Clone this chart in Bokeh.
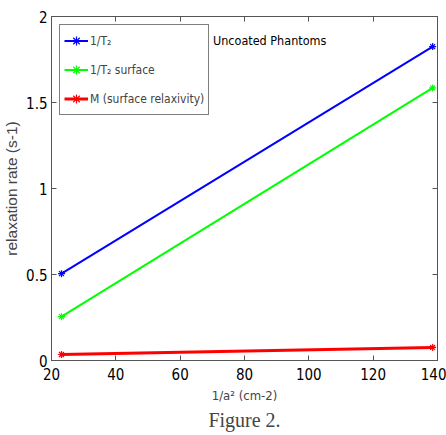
from bokeh.plotting import figure
from bokeh.models import Range1d, LinearAxis, FixedTicker, Legend, LegendItem, Label, Title
from bokeh.embed import file_html
from bokeh.resources import INLINE

# data
x_vals = [23.1, 138.5]
t2 = [0.505, 1.825]
t2_surface = [0.255, 1.585]
m_relax = [0.035, 0.076]

x_ticks = [20, 40, 60, 80, 100, 120, 140]
y_ticks = [0, 0.5, 1, 1.5, 2]
y_tick_labels = {0: "0", 0.5: "0.5", 1: "1", 1.5: "1.5", 2: "2"}

series_labels = ["1/T\u2082", "1/T\u2082 surface", "M (surface relaxivity)"]
series_colors = ["#0000ff", "#00ff00", "#ff0000"]

NARROW = "DejaVu Sans Condensed, Roboto"
AXC = "#555555"

p = figure(width=446, height=435, output_backend="svg", toolbar_location=None,
           x_range=Range1d(20, 140), y_range=Range1d(0, 2),
           min_border_left=47, min_border_right=9, min_border_top=16, min_border_bottom=75)
p.background_fill_color = "white"
p.border_fill_color = "white"
p.outline_line_color = AXC
p.grid.visible = False

for ax in [p.xaxis[0], p.yaxis[0]]:
    ax.major_tick_in = 5
    ax.major_tick_out = 0
    ax.minor_tick_in = 0
    ax.minor_tick_out = 0
    ax.axis_line_color = AXC
    ax.major_tick_line_color = AXC
    ax.major_label_text_font = NARROW
    ax.major_label_text_font_size = "15px"
    ax.major_label_text_color = "black"

p.xaxis[0].ticker = FixedTicker(ticks=x_ticks)
p.yaxis[0].ticker = FixedTicker(ticks=y_ticks)
p.yaxis[0].major_label_overrides = y_tick_labels
p.xaxis[0].major_label_standoff = 7
p.yaxis[0].major_label_standoff = 4

p.xaxis[0].axis_label = "1/a\u00b2 (cm-2)"
p.xaxis[0].axis_label_text_font = NARROW
p.xaxis[0].axis_label_text_font_size = "13px"
p.xaxis[0].axis_label_text_font_style = "normal"
p.xaxis[0].axis_label_standoff = 5

p.yaxis[0].axis_label = "relaxation rate (s-1)"
p.yaxis[0].axis_label_text_font = "Liberation Sans"
p.yaxis[0].axis_label_text_font_size = "15.5px"
p.yaxis[0].axis_label_text_font_style = "normal"
p.yaxis[0].axis_label_standoff = 3

top_ax = LinearAxis(ticker=FixedTicker(ticks=x_ticks), major_label_text_font_size="0px",
                    major_label_standoff=0, major_tick_in=5, major_tick_out=0,
                    minor_tick_in=0, minor_tick_out=0, axis_line_color=AXC,
                    major_tick_line_color=AXC)
right_ax = LinearAxis(ticker=FixedTicker(ticks=y_ticks), major_label_text_font_size="0px",
                      major_label_standoff=0, major_tick_in=5, major_tick_out=0,
                      minor_tick_in=0, minor_tick_out=0, axis_line_color=AXC,
                      major_tick_line_color=AXC)
p.add_layout(top_ax, "above")
p.add_layout(right_ax, "right")

items = []
for ys, lab, col, w in zip([t2, t2_surface, m_relax], series_labels, series_colors, [2, 2, 3]):
    r1 = p.line(x_vals, ys, line_color=col, line_width=w)
    r2 = p.scatter(x_vals, ys, marker="asterisk", size=7, line_color=col, line_width=1.2)
    items.append(LegendItem(label=lab, renderers=[r1, r2]))

legend = Legend(items=items, location="top_left", margin=8, padding=4, spacing=6,
                label_height=23, glyph_height=23, glyph_width=24,
                label_text_font=NARROW, label_text_font_size="12px",
                border_line_color="black", border_line_width=1,
                background_fill_color="white", background_fill_alpha=1.0,
                label_standoff=2)
p.add_layout(legend)

p.add_layout(Label(x=70.2, y=1.86, text="Uncoated Phantoms", text_font=NARROW,
                   text_font_size="12.5px", text_baseline="middle", text_color="black"))

cap = Title(text="Figure 2.", align="center", text_font="Liberation Serif",
            text_font_size="20px", text_font_style="normal", offset=8, standoff=2)
p.add_layout(cap, "below")

open("out.html", "w").write(file_html(p, INLINE))
